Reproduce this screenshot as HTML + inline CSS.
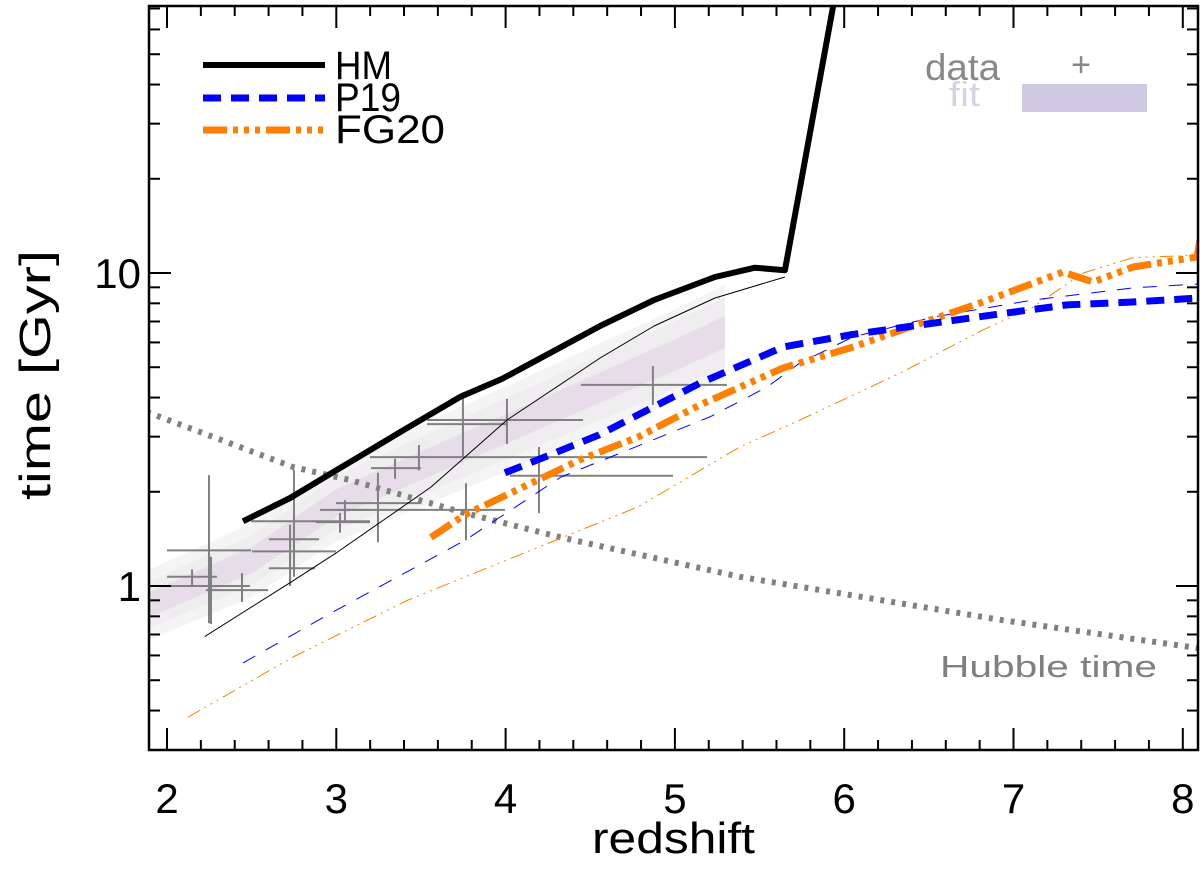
<!DOCTYPE html>
<html><head><meta charset="utf-8"><style>
html,body{margin:0;padding:0;background:#fff;}
svg{display:block;font-family:"Liberation Sans",Arial,sans-serif;}
</style></head><body>
<svg id="chart" width="1200" height="869" viewBox="0 0 1200 869">
<g id="band"></g>
<g id="data"></g>
<g id="lines"></g>
<g id="axes"></g>
<g>
<line x1="203" y1="65" x2="325" y2="65" stroke="#000" stroke-width="6"/>
<text x="335" y="79" font-size="40" textLength="57" lengthAdjust="spacingAndGlyphs">HM</text>
<line x1="203" y1="98" x2="325" y2="98" stroke="#0000ff" stroke-width="7" stroke-dasharray="18 10"/>
<text x="335" y="111" font-size="40" textLength="66" lengthAdjust="spacingAndGlyphs">P19</text>
<line x1="203" y1="130" x2="325" y2="130" stroke="#ff7f00" stroke-width="7" stroke-dasharray="24 6 5 6 5 6 5 6"/>
<text x="335" y="143" font-size="40" textLength="110" lengthAdjust="spacingAndGlyphs">FG20</text>
<text x="925" y="80" font-size="37" fill="#888" textLength="75" lengthAdjust="spacingAndGlyphs">data</text>
<text x="1081" y="76" font-size="34" fill="#888" text-anchor="middle">+</text>
<text x="949" y="106" font-size="34" fill="#d6d0e8" textLength="31" lengthAdjust="spacingAndGlyphs">fit</text>
<rect x="1022" y="84" width="125" height="28" fill="#cfc9e3"/>
</g>
<text x="940" y="677" font-size="31" fill="#808080" textLength="217" lengthAdjust="spacingAndGlyphs">Hubble time</text>
<text x="592" y="853" font-size="44" textLength="163" lengthAdjust="spacingAndGlyphs">redshift</text>
<text transform="translate(50,500) rotate(-90)" font-size="44" textLength="250" lengthAdjust="spacingAndGlyphs">time [Gyr]</text>
</svg>
<script>
// Data arrays
const hmThickZ = [2.449,2.727,3.022,3.376,3.731,3.979,4.558,4.877,5.237,5.473,5.650,5.934,6.0];
const hmThickT = [1.61,1.91,2.38,3.10,4.02,4.59,6.77,8.20,9.71,10.4,10.2,70.8,90];
const hmThinZ = [2.224,2.721,3.004,3.559,4.008,4.363,4.558,4.877,5.237,5.650];
const hmThinT = [0.69,1.02,1.28,2.07,3.39,4.55,5.35,6.77,8.32,9.71];
const p19ThickZ = [3.996,4.191,4.552,5.148,5.639,6.034,6.406,6.920,7.316,7.706,8.09];
const p19ThickT = [2.30,2.53,3.04,4.45,5.80,6.34,6.77,7.40,7.91,8.08,8.32];
const p19ThinZ = [2.449,2.969,3.760,4.327,5.207,5.544,5.739,6.052,6.525,7.115,7.706,8.09];
const p19ThinT = [0.568,0.82,1.40,2.23,3.47,4.32,5.16,6.25,7.23,8.20,8.96,9.22];
const fgThickZ = [3.559,3.760,4.103,4.439,4.782,5.148,5.639,6.034,6.406,6.820,7.292,7.470,7.706,8.084,8.12];
const fgThickT = [1.43,1.69,2.07,2.53,2.99,3.79,4.97,5.76,6.77,8.08,10.07,9.36,10.45,11.25,14.5];
const fgThinZ = [2.124,2.744,3.424,4.103,4.782,5.384,5.739,6.330,6.820,7.115,7.411,7.706,8.09];
const fgThinT = [0.381,0.593,0.902,1.27,1.79,2.78,3.39,4.79,6.58,7.78,10.0,11.2,11.4];
const hubbleZ = [1.88,2.744,3.081,3.760,4.327,5.384,6.920,8.10];
const hubbleT = [3.6,2.40,2.18,1.71,1.43,1.07,0.78,0.632];
const dataZ = [2.248,2.148,2.26,2.443,2.75,2.727,2.727,2.75,3.022,3.051,3.246,3.347,3.488,3.766,3.748,4.008,4.197,4.87];
const dataZlo = [2.0,2.0,2.0,2.23,2.496,2.602,2.602,2.502,2.88,2.904,2.998,3.205,3.199,3.004,3.536,3.536,4.026,4.445];
const dataZhi = [2.496,2.295,2.49,2.597,3.199,2.898,2.874,2.998,3.199,3.199,3.50,3.50,5.19,3.996,4.008,4.457,4.989,5.308];
const dataT = [1.30,1.07,1.0,0.97,1.61,1.41,1.14,1.29,1.60,1.75,1.84,2.38,2.58,1.75,3.29,3.39,2.25,4.39];
const dataTlo = [0.76,1.0,0.756,0.889,1.07,1.0,1.0,1.24,1.48,1.62,1.38,2.20,2.34,1.40,2.58,2.84,1.71,3.79];
const dataThi = [2.26,1.13,1.24,1.10,2.35,1.57,1.30,1.35,1.71,1.88,2.30,2.55,2.82,2.13,4.16,3.96,2.78,5.04];
const bandZ = [1.894,2.5,3.0,3.5,4.0,4.5,5.0,5.296];
const bandT = [0.87,1.21,1.84,2.42,3.17,4.17,5.47,6.48];
const bandInnerDex = [0.040,0.042,0.044,0.046,0.047,0.048,0.050,0.051];
const bandMidDex = [0.074,0.080,0.086,0.092,0.098,0.103,0.108,0.112];
const bandOuterDex = [0.112,0.118,0.124,0.130,0.136,0.141,0.146,0.150];
const xTicks = [2,3,4,5,6,7,8];
const xTickLabels = ["2","3","4","5","6","7","8"];
const yMajor = [1,10];
const yMajorLabels = ["1","10"];

const NS = "http://www.w3.org/2000/svg";
const L=149,R=1198,T=6,B=750;
function sx(z){return 167+(z-2)*169.3;}
function sy(t){return 586-313*Math.log10(t);}
function mk(tag,attrs,parent){const e=document.createElementNS(NS,tag);for(const k in attrs)e.setAttribute(k,attrs[k]);parent.appendChild(e);return e;}
const svg=document.getElementById('chart');
const defs=mk('defs',{},svg);
const cp=mk('clipPath',{id:'clip'},defs);
mk('rect',{x:L,y:T,width:R-L,height:B-T},cp);

const band=document.getElementById('band');
band.setAttribute('clip-path','url(#clip)');
function bandPath(dex,fill,name){
  let up=[],dn=[];
  for(let i=0;i<bandZ.length;i++){
    const lt=Math.log10(bandT[i]);
    up.push(sx(bandZ[i]).toFixed(1)+','+sy(Math.pow(10,lt+dex[i])).toFixed(1));
    dn.unshift(sx(bandZ[i]).toFixed(1)+','+sy(Math.pow(10,lt-dex[i])).toFixed(1));
  }
  const p=mk('polygon',{points:up.concat(dn).join(' '),fill:fill},band);
  
  
}
bandPath(bandOuterDex,'#f5f4f5','fit-band-outer');
bandPath(bandMidDex,'#efedef','fit-band-middle');
bandPath(bandInnerDex,'#e6dde9','fit-band-inner');

const dg=document.getElementById('data');
for(let i=0;i<dataZ.length;i++){
  const g=mk('g',{stroke:'#808080','stroke-width':2},dg);
  
  
  mk('line',{x1:sx(dataZlo[i]),x2:sx(dataZhi[i]),y1:sy(dataT[i]),y2:sy(dataT[i])},g);
  mk('line',{x1:sx(dataZ[i]),x2:sx(dataZ[i]),y1:sy(dataTlo[i]),y2:sy(dataThi[i])},g);
}

const lg=document.getElementById('lines');
lg.setAttribute('clip-path','url(#clip)');
function line(zs,ts,stroke,w,dash,name){
  const pts=zs.map((z,i)=>sx(z).toFixed(1)+','+sy(ts[i]).toFixed(1)).join(' ');
  const a={points:pts,fill:'none',stroke:stroke,'stroke-width':w,'stroke-linejoin':'round'};
  if(dash)a['stroke-dasharray']=dash;
  const p=mk('polyline',a,lg);
  
  
}
line(hubbleZ,hubbleT,'#808080',6,'4 7','hubble-time-line');
line(fgThinZ,fgThinT,'#ff7f00',1,'14 5 2 5 2 5 2 5','fg20-thin-line');
line(p19ThinZ,p19ThinT,'#0000ff',1,'14 12','p19-thin-line');
line(hmThinZ,hmThinT,'#000',1,null,'hm-thin-line');
line(fgThickZ,fgThickT,'#ff7f00',7,'24 6 5 6 5 6 5 6','fg20-thick-line');
line(p19ThickZ,p19ThickT,'#0000ff',7,'18 10','p19-thick-line');
line(hmThickZ,hmThickT,'#000',6,null,'hm-thick-line');

const ag=document.getElementById('axes');
const fr=mk('rect',{x:L,y:T,width:R-L,height:B-T,fill:'none',stroke:'#000','stroke-width':2.5},ag);


for(let z=1.8;z<=8.2;z+=0.2){
  const zz=Math.round(z*10)/10; const x=sx(zz);
  if(x<L+1||x>R-1)continue;
  const major=Math.abs(zz-Math.round(zz))<1e-6;
  const len=major?22:10;
  mk('line',{x1:x,x2:x,y1:B,y2:B-len,stroke:'#000','stroke-width':2},ag);
  mk('line',{x1:x,x2:x,y1:T,y2:T+len,stroke:'#000','stroke-width':2},ag);
}
xTicks.forEach((v,i)=>{
  const t=mk('text',{x:sx(v),y:813,'font-size':42,'text-anchor':'middle'},ag);
  t.textContent=xTickLabels[i];
  
  
});
[0.3,0.4,0.5,0.6,0.7,0.8,0.9,1,2,3,4,5,6,7,8,9,10,20,30,40,50,60,70].forEach(v=>{
  const y=sy(v); if(y<T+1||y>B-1)return;
  const major=(v===1||v===10);
  const len=major?22:11;
  mk('line',{x1:L,x2:L+len,y1:y,y2:y,stroke:'#000','stroke-width':2},ag);
  mk('line',{x1:R,x2:R-len,y1:y,y2:y,stroke:'#000','stroke-width':2},ag);
});
yMajor.forEach((v,i)=>{
  const t=mk('text',{x:141,y:sy(v)+15,'font-size':42,'text-anchor':'end'},ag);
  t.textContent=yMajorLabels[i];
  
  
});
</script>
</body></html>
